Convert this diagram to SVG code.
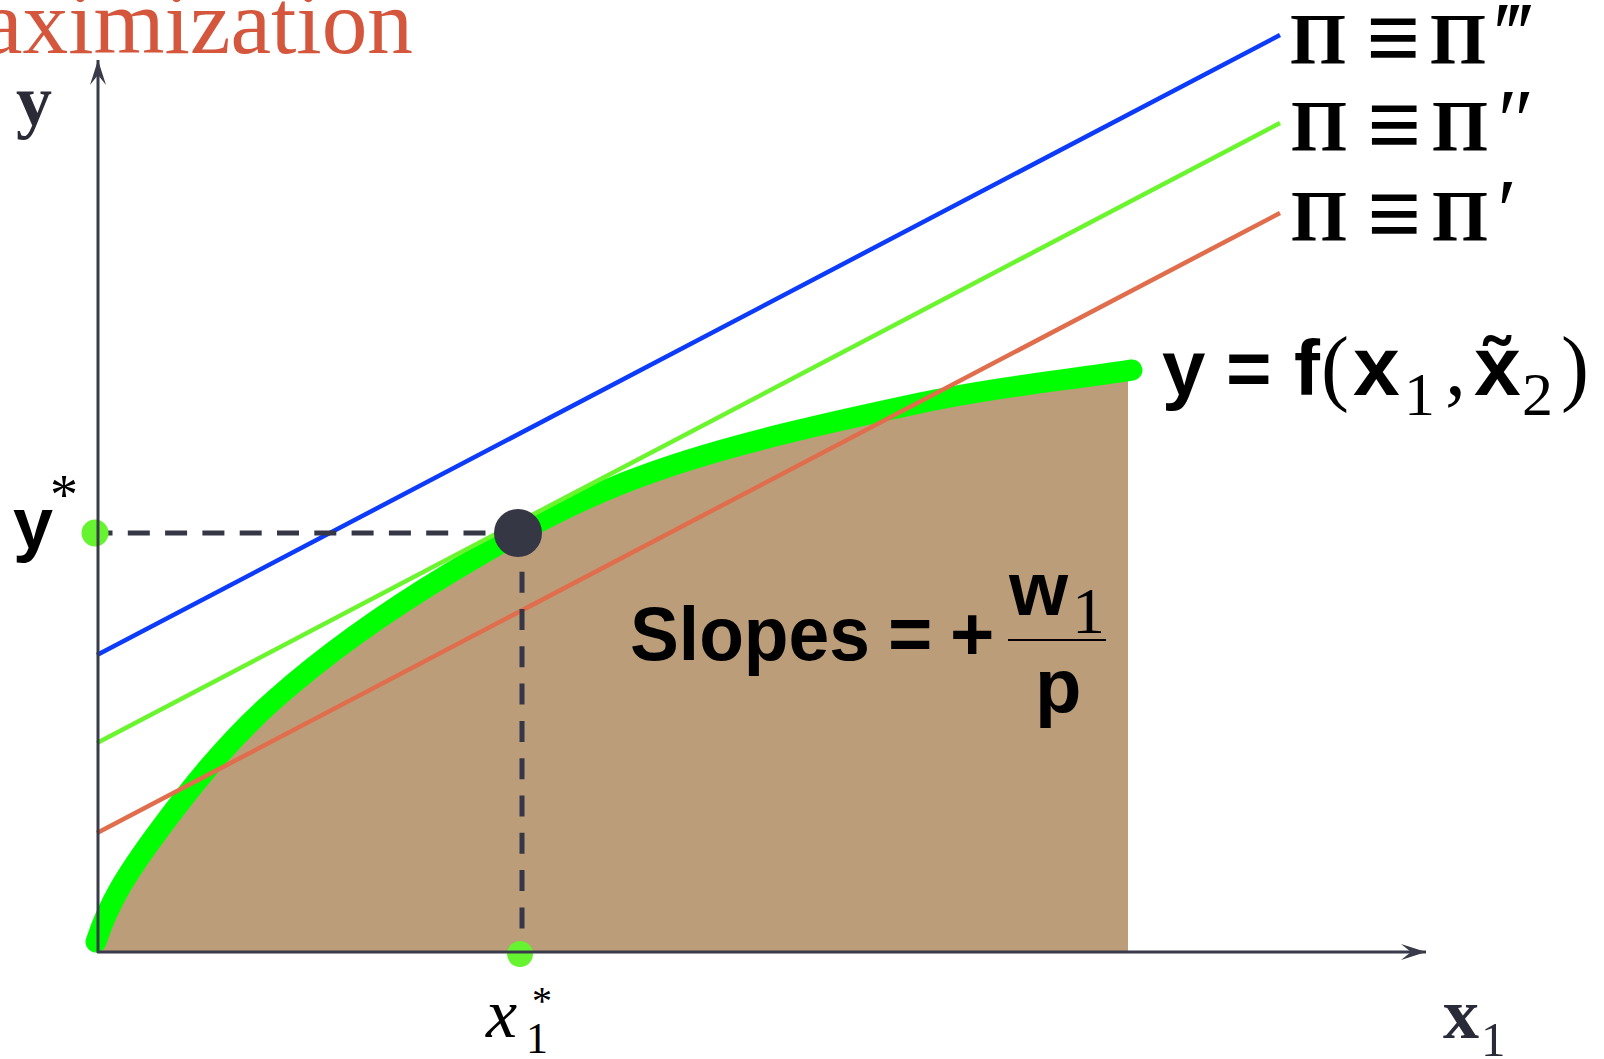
<svg xmlns="http://www.w3.org/2000/svg" width="1604" height="1059" viewBox="0 0 1604 1059">
<style>
.serif{font-family:"Liberation Serif","Times New Roman",serif}
.sans{font-family:"Liberation Sans",Arial,sans-serif}
.b{font-weight:bold}
.axis{stroke:#3a3b4a;stroke-width:3;fill:none}
.dash{stroke:#353746;stroke-width:5;fill:none}
.tan{stroke-width:4.5;fill:none}
.gdot{fill:#66F430}
.eq{font-size:96px}
.pr{font-style:italic;font-weight:normal;font-size:88px}
</style>
<defs>
<marker id="arr" markerUnits="userSpaceOnUse" viewBox="0 0 25 16" markerWidth="25" markerHeight="16" refX="25" refY="8" orient="auto">
<path d="M0,0 L25,8 L0,16 L10,8 Z" fill="#3a3b4a"/>
</marker>
</defs>
<rect width="1604" height="1059" fill="#ffffff"/>
<text id="title" class="serif" x="-18" y="53" font-size="92" fill="#D3563D" textLength="431" lengthAdjust="spacingAndGlyphs">aximization</text>
<g id="region">
<path d="M98,952 L96,942 C109,902 127.3,873.3 157,833 C186.7,792.7 225.2,743.3 274,700 C322.8,656.7 386.8,611 450,573 C513.2,535 574.7,499.2 653,472 C731.3,443.7 840.2,420 920,403 C999.8,386 1061.3,381 1132,370 L1128,372 L1128,952 Z" fill="#BC9D7A"/>
</g>
<g id="curve">
<path d="M96,942 C109,902 127.3,873.3 157,833 C186.7,792.7 225.2,743.3 274,700 C322.8,656.7 386.8,611 450,573 C513.2,535 574.7,499.2 653,472 C731.3,443.7 840.2,420 920,403 C999.8,386 1061.3,381 1132,370" stroke="#00FF00" stroke-width="21" stroke-linecap="round" fill="none"/>
</g>
<g id="connectors">
<line class="tan" x1="97" y1="655" x2="1280" y2="35" stroke="#0D3BFA"/>
<line class="tan" x1="97" y1="743" x2="1280" y2="123" stroke="#6AF52E"/>
<line class="tan" x1="97" y1="833" x2="1280" y2="213" stroke="#E06E4C"/>
<line class="dash" x1="90.5" y1="533" x2="520" y2="533" stroke-dasharray="22 15.3"/>
<line class="dash" x1="522" y1="534.4" x2="522" y2="930" stroke-dasharray="21 16.3"/>
</g>
<g id="ystar-dot"><circle class="gdot" cx="95" cy="533" r="13.5"/></g>
<g id="xstar-dot"><circle class="gdot" cx="520" cy="954" r="13"/></g>
<g id="axes">
<line class="axis" x1="98" y1="953" x2="98" y2="60" marker-end="url(#arr)"/>
<line class="axis" x1="97" y1="952" x2="1426" y2="952" marker-end="url(#arr)"/>
</g>
<g id="optimum"><circle cx="518" cy="533" r="24" fill="#363745"/></g>
<g id="labels">
<text class="serif b" x="16" y="125" font-size="72" fill="#2a2b36">y</text>
<text x="13" y="548" font-size="72" class="sans b" fill="#000">y</text>
<text x="50" y="514" font-size="56" class="serif" fill="#000">*</text>
<text class="serif b" x="1443" y="1038" font-size="72" fill="#2a2b38">x</text>
<text class="serif" x="1481" y="1056" font-size="49" fill="#2a2b38">1</text>
<text class="serif" font-style="italic" x="486" y="1037" font-size="70" fill="#000">x</text>
<text class="serif" x="526" y="1053" font-size="44" fill="#000">1</text>
<text class="serif" x="532" y="1014" font-size="40" fill="#000">*</text>
</g>
<g id="profit-labels" class="serif b" font-size="72" fill="#000">
<text y="63"><tspan x="1290">Π</tspan><tspan class="eq" x="1366" y="70">≡</tspan><tspan x="1430" y="63">Π</tspan><tspan class="pr" x="1490">‴</tspan></text>
<text y="150"><tspan x="1291">Π</tspan><tspan class="eq" x="1367" y="157">≡</tspan><tspan x="1432" y="150">Π</tspan><tspan class="pr" x="1492">″</tspan></text>
<text y="240"><tspan x="1291">Π</tspan><tspan class="eq" x="1367" y="246">≡</tspan><tspan x="1432" y="240">Π</tspan><tspan class="pr" x="1492">′</tspan></text>
</g>
<g id="function-label" fill="#000">
<text y="395" font-size="78"><tspan class="sans b" x="1162">y</tspan><tspan class="sans b" x="1226">=</tspan><tspan class="sans b" x="1294">f</tspan><tspan class="serif" x="1321" font-size="84">(</tspan><tspan class="sans b" x="1353" font-size="84">x</tspan><tspan class="serif" x="1404" y="415" font-size="62">1</tspan><tspan class="serif" x="1445" y="395" font-size="84">,</tspan><tspan class="sans b" x="1474" font-size="84">x̃</tspan><tspan class="serif" x="1522" y="415" font-size="62">2</tspan><tspan class="serif" x="1561" y="395" font-size="84">)</tspan></text>
</g>
<g id="slope-label" fill="#000">
<text class="sans b" x="630" y="660" font-size="76" textLength="240" lengthAdjust="spacingAndGlyphs">Slopes</text>
<text class="sans b" x="888" y="660" font-size="76">=</text>
<text class="sans b" x="950" y="660" font-size="76">+</text>
<line x1="1008" y1="640" x2="1106" y2="640" stroke="#000" stroke-width="2"/>
<text class="sans b" x="1009" y="615" font-size="76">w</text>
<text class="serif" x="1072" y="633" font-size="66">1</text>
<text class="sans b" x="1035" y="712" font-size="76">p</text>
</g>
</svg>
